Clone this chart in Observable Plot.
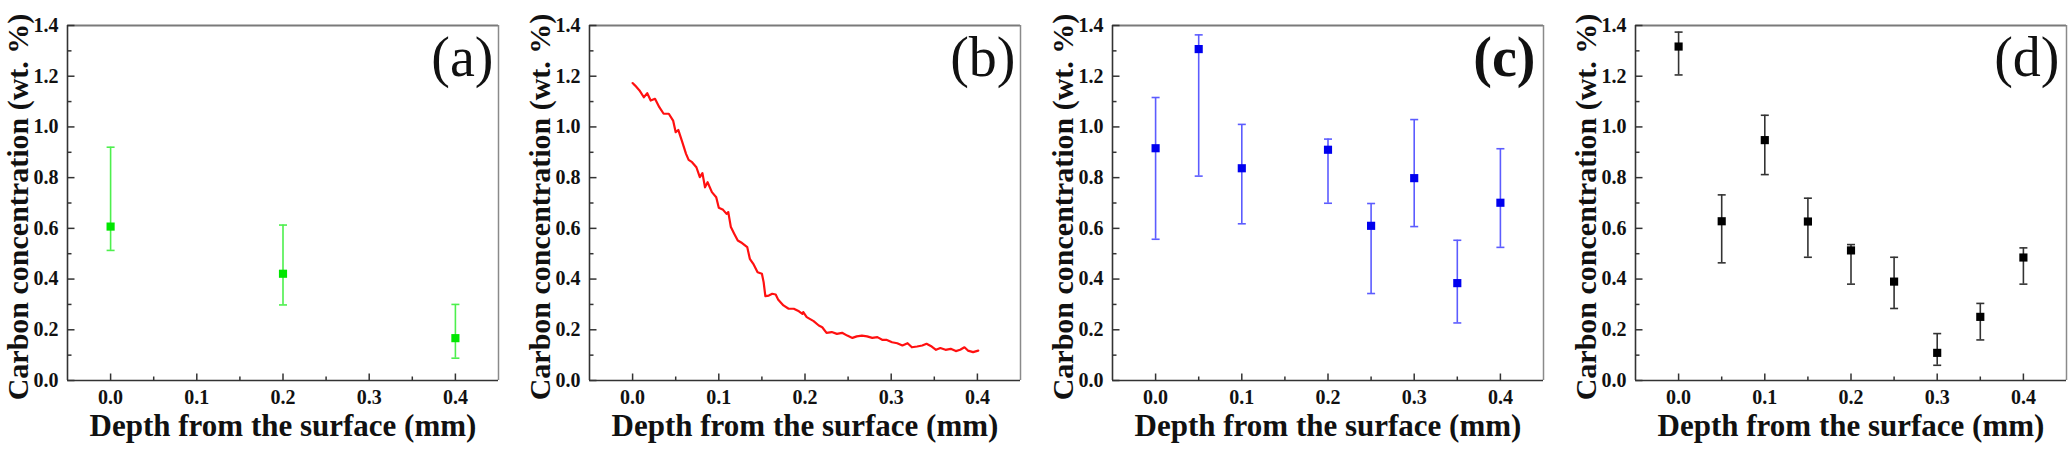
<!DOCTYPE html>
<html>
<head>
<meta charset="utf-8">
<script src="https://cdn.jsdelivr.net/npm/d3@7"></script>
<script src="https://cdn.jsdelivr.net/npm/@observablehq/plot@0.6"></script>
<style>
  html, body { margin: 0; padding: 0; background: #fff; }
  #wrap { position: relative; width: 2068px; height: 451px; overflow: hidden; }
  .panel { position: absolute; top: 0; }
  .panel svg { overflow: visible; font-family: 'Liberation Serif', 'Times New Roman', serif; }
</style>
</head>
<body>
<div id="wrap"></div>
<script>
// ---------- data ----------
const xTitle = "Depth from the surface (mm)";
const yTitle = "Carbon concentration (wt. %)";
const panelLabels = ["(a)", "(b)", "(c)", "(d)"];

const xMajorTicks = [0.0, 0.1, 0.2, 0.3, 0.4];
const xMinorTicks = [0.05, 0.15, 0.25, 0.35];
const yMajorTicks = [0.0, 0.2, 0.4, 0.6, 0.8, 1.0, 1.2, 1.4];
const yMinorTicks = [0.1, 0.3, 0.5, 0.7, 0.9, 1.1, 1.3];

// (a) green
const aDepth = [0.0, 0.2, 0.4];
const aValue = [0.607, 0.421, 0.167];
const aHigh  = [0.920, 0.613, 0.300];
const aLow   = [0.513, 0.298, 0.088];

// (b) red profile
const bDepth = [0.000,0.003,0.008,0.013,0.017,0.021,0.026,0.031,0.036,0.042,0.047,0.050,0.053,0.057,0.062,0.065,0.069,0.074,0.078,0.081,0.084,0.087,0.092,0.097,0.100,0.105,0.109,0.111,0.114,0.118,0.122,0.127,0.133,0.136,0.140,0.145,0.150,0.152,0.154,0.158,0.162,0.166,0.169,0.175,0.181,0.187,0.193,0.197,0.198,0.202,0.210,0.216,0.220,0.225,0.231,0.237,0.243,0.249,0.255,0.260,0.266,0.272,0.278,0.284,0.290,0.295,0.301,0.307,0.313,0.319,0.324,0.330,0.336,0.341,0.347,0.352,0.357,0.363,0.369,0.375,0.380,0.385,0.389,0.395,0.401];
const bValue = [1.173,1.163,1.144,1.117,1.133,1.104,1.111,1.078,1.052,1.052,1.025,0.979,0.988,0.947,0.894,0.870,0.861,0.841,0.802,0.818,0.762,0.782,0.743,0.723,0.681,0.673,0.657,0.664,0.605,0.578,0.552,0.542,0.526,0.480,0.460,0.427,0.421,0.388,0.333,0.335,0.342,0.339,0.318,0.296,0.283,0.283,0.273,0.263,0.270,0.250,0.234,0.217,0.210,0.188,0.191,0.184,0.188,0.177,0.168,0.174,0.177,0.174,0.168,0.171,0.160,0.160,0.151,0.147,0.138,0.147,0.131,0.134,0.138,0.145,0.134,0.121,0.128,0.121,0.125,0.116,0.121,0.131,0.118,0.112,0.118];

// (c) blue
const cDepth = [0.0, 0.05, 0.1, 0.2, 0.25, 0.3, 0.35, 0.4];
const cValue = [0.916, 1.307, 0.837, 0.910, 0.610, 0.798, 0.384, 0.701];
const cHigh  = [1.116, 1.363, 1.010, 0.952, 0.698, 1.029, 0.553, 0.914];
const cLow   = [0.557, 0.806, 0.618, 0.699, 0.343, 0.607, 0.227, 0.525];

// (d) black
const dDepth = [0.0, 0.05, 0.1, 0.15, 0.2, 0.25, 0.3, 0.35, 0.4];
const dValue = [1.317, 0.628, 0.948, 0.627, 0.513, 0.390, 0.109, 0.251, 0.485];
const dHigh  = [1.374, 0.732, 1.046, 0.719, 0.536, 0.486, 0.185, 0.304, 0.523];
const dLow   = [1.205, 0.464, 0.812, 0.486, 0.380, 0.284, 0.060, 0.160, 0.380];

// ---------- helpers ----------
const rows = (xs, vs, hs, ls) => xs.map((x, i) => ({x, v: vs[i], hi: hs ? hs[i] : null, lo: ls ? ls[i] : null}));
const rad = size => Math.sqrt(size / Math.PI);
const capSymbol = {draw(ctx, size) { const r = rad(size); ctx.moveTo(-r, 0); ctx.lineTo(r, 0); }};
const upTick = {draw(ctx, size) { const r = rad(size); ctx.moveTo(0, 0); ctx.lineTo(0, -r); }};
const rightTick = {draw(ctx, size) { const r = rad(size); ctx.moveTo(0, 0); ctx.lineTo(r, 0); }};
const FONT = "Liberation Serif";
const fmt = d3.format(".1f");

function frameMarks() {
  return [
    Plot.ruleY([1.4], {stroke: "#7a7a7a", strokeWidth: 2}),
    Plot.ruleX([0.45], {stroke: "#8a8a8a", strokeWidth: 1.5}),
    Plot.ruleY([0], {stroke: "#333", strokeWidth: 1.6}),
    Plot.ruleX([-0.05], {stroke: "#333", strokeWidth: 1.6}),
    Plot.dot(xMajorTicks, {x: d => d, y: 0, symbol: upTick, r: 7, stroke: "#333", strokeWidth: 1.5, fill: "none"}),
    Plot.dot(xMinorTicks, {x: d => d, y: 0, symbol: upTick, r: 4, stroke: "#333", strokeWidth: 1.5, fill: "none"}),
    Plot.dot(yMajorTicks, {x: -0.05, y: d => d, symbol: rightTick, r: 7, stroke: "#333", strokeWidth: 1.5, fill: "none"}),
    Plot.dot(yMinorTicks, {x: -0.05, y: d => d, symbol: rightTick, r: 4, stroke: "#333", strokeWidth: 1.5, fill: "none"}),
    Plot.text(xMajorTicks, {x: d => d, frameAnchor: "bottom", text: d => fmt(d), lineAnchor: "top", dy: 9, fontFamily: FONT, fontSize: 20, fontWeight: "bold", fill: "#111"}),
    Plot.text(yMajorTicks, {y: d => d, frameAnchor: "left", text: d => fmt(d), textAnchor: "end", dx: -9, fontFamily: FONT, fontSize: 20, fontWeight: "bold", fill: "#111"}),
    Plot.text([xTitle], {text: d => d, frameAnchor: "bottom", textAnchor: "middle", dy: 55, fontFamily: FONT, fontSize: 31, fontWeight: "bold", fill: "#111"}),
    Plot.text([yTitle], {text: d => d, frameAnchor: "left", textAnchor: "middle", rotate: -90, dx: -49, dy: 4, fontFamily: FONT, fontSize: 30, fontWeight: "bold", fill: "#111"})
  ];
}

function errorMarks(data, barColor, markColor) {
  return [
    Plot.ruleX(data, {x: "x", y1: "lo", y2: "hi", stroke: barColor, strokeWidth: 1.6}),
    Plot.dot(data, {x: "x", y: "hi", symbol: capSymbol, r: 4, stroke: barColor, strokeWidth: 1.6, fill: "none"}),
    Plot.dot(data, {x: "x", y: "lo", symbol: capSymbol, r: 4, stroke: barColor, strokeWidth: 1.6, fill: "none"}),
    Plot.dot(data, {x: "x", y: "v", symbol: "square", r: 4.6, fill: markColor, stroke: "none"})
  ];
}

function labelMark(txt, bold, dx) {
  return Plot.text([txt], {text: d => d, frameAnchor: "top-right", textAnchor: "end", lineAnchor: "top", dx: dx, dy: 11, fontFamily: FONT, fontSize: 56, fontWeight: bold ? "bold" : "normal", fill: "#111"});
}

function makePlot(marks) {
  return Plot.plot({
    width: 500, height: 451,
    marginLeft: 67, marginRight: 2, marginTop: 25, marginBottom: 71,
    style: {fontFamily: FONT, background: "transparent", overflow: "visible"},
    x: {domain: [-0.05, 0.45], axis: null},
    y: {domain: [0, 1.4], axis: null},
    marks
  });
}

const panels = [
  {left: 0, marks: [...frameMarks(), ...errorMarks(rows(aDepth, aValue, aHigh, aLow), "#4def4d", "#00e600"), labelMark(panelLabels[0], false, -5)]},
  {left: 522, marks: [...frameMarks(), Plot.line(rows(bDepth, bValue), {x: "x", y: "v", stroke: "#ff1010", strokeWidth: 2.2}), labelMark(panelLabels[1], false, -5)]},
  {left: 1045, marks: [...frameMarks(), ...errorMarks(rows(cDepth, cValue, cHigh, cLow), "#5c5cff", "#0000ee"), labelMark(panelLabels[2], true, -8)]},
  {left: 1568, marks: [...frameMarks(), ...errorMarks(rows(dDepth, dValue, dHigh, dLow), "#333", "#000"), labelMark(panelLabels[3], false, -7)]}
];

const wrap = document.getElementById("wrap");
for (const p of panels) {
  const div = document.createElement("div");
  div.className = "panel";
  div.style.left = p.left + "px";
  div.appendChild(makePlot(p.marks));
  wrap.appendChild(div);
}
</script>
</body>
</html>
